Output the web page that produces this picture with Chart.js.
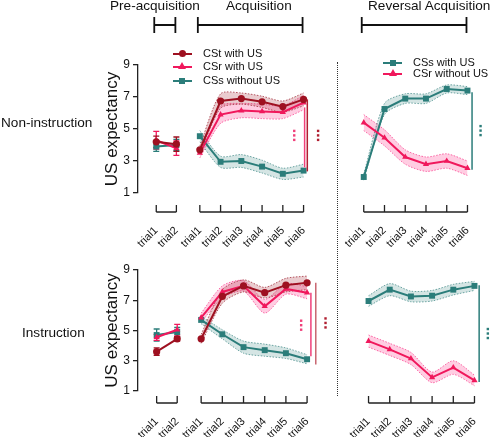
<!DOCTYPE html>
<html>
<head>
<meta charset="utf-8">
<script src="https://cdn.jsdelivr.net/npm/chart.js@4.4.1/dist/chart.umd.min.js"></script>
<style>
body{margin:0;width:500px;height:437px;position:relative;background:#fff;overflow:hidden;
  font-family:"Liberation Sans",Arial,sans-serif;color:#111}
canvas{position:absolute;left:0}
.t{position:absolute;white-space:nowrap;z-index:2}
.ln{position:absolute;height:2px;width:19px;z-index:2}
.mk{position:absolute;z-index:3}
</style>
</head>
<body>
<canvas id="topChart" width="500" height="262" style="top:0"></canvas>
<canvas id="bottomChart" width="500" height="197" style="top:240px"></canvas>

<!-- phase titles -->
<div class="t" style="left:110px;top:-2px;font-size:13.6px">Pre-acquisition</div>
<div class="t" style="left:226px;top:-2px;font-size:13.6px">Acquisition</div>
<div class="t" style="left:368px;top:-2px;font-size:13.6px">Reversal Acquisition</div>

<!-- row labels -->
<div class="t" style="left:1px;top:115px;font-size:13.6px">Non-instruction</div>
<div class="t" style="left:22px;top:325px;font-size:13.6px">Instruction</div>

<!-- separator -->
<div style="position:absolute;left:337px;top:62px;height:334px;border-left:1.5px dotted #333"></div>

<!-- legend, acquisition -->
<div class="ln" style="left:173px;top:53px;background:#9e1020"></div>
<div class="mk" style="left:179px;top:50px;width:7px;height:7px;border-radius:50%;background:#9e1020"></div>
<div class="t" style="left:203px;top:47px;font-size:11px">CSt with US</div>
<div class="ln" style="left:173px;top:66px;background:#f0185c"></div>
<div class="mk" style="left:178px;top:62px;width:0;height:0;border-left:4px solid transparent;border-right:4px solid transparent;border-bottom:7px solid #f0185c"></div>
<div class="t" style="left:203px;top:60px;font-size:11px">CSr with US</div>
<div class="ln" style="left:173px;top:80px;background:#2b7d7a"></div>
<div class="mk" style="left:179px;top:78px;width:6px;height:6px;background:#2b7d7a"></div>
<div class="t" style="left:203px;top:74px;font-size:11px">CSs without US</div>

<!-- legend, reversal -->
<div class="ln" style="left:383px;top:62px;background:#2b7d7a"></div>
<div class="mk" style="left:390px;top:60px;width:6px;height:6px;background:#2b7d7a"></div>
<div class="t" style="left:413px;top:56px;font-size:11px">CSs with US</div>
<div class="ln" style="left:383px;top:73px;background:#f0185c"></div>
<div class="mk" style="left:389px;top:69px;width:0;height:0;border-left:4px solid transparent;border-right:4px solid transparent;border-bottom:7px solid #f0185c"></div>
<div class="t" style="left:413px;top:67px;font-size:11px">CSr without US</div>

<script>
// labels
const preTrials = ['trial1', 'trial2']
const sixTrials = ['trial1', 'trial2', 'trial3', 'trial4', 'trial5', 'trial6']
const yTicks = [1, 3, 5, 7, 9]

// non-instruction (top row)
const topPreCSt = [4.2, 4.05]
const topPreCStErr = [0.35, 0.45]
const topPreCSr = [4.3, 3.8]
const topPreCSrErr = [0.55, 0.45]
const topPreCSs = [3.9, 4.0]
const topPreCSsErr = [0.3, 0.35]
const topAcqCSt = [3.7, 6.75, 6.9, 6.7, 6.4, 6.85]
const topAcqCStErr = [0.25, 0.45, 0.35, 0.35, 0.35, 0.4]
const topAcqCSr = [3.5, 5.9, 6.15, 6.1, 6.05, 6.65]
const topAcqCSrErr = [0.3, 0.55, 0.45, 0.45, 0.4, 0.45]
const topAcqCSs = [4.55, 2.95, 3.0, 2.65, 2.2, 2.4]
const topAcqCSsErr = [0.35, 0.35, 0.4, 0.4, 0.35, 0.4]
const topRevCSs = [2.0, 6.25, 6.9, 6.9, 7.5, 7.4]
const topRevCSsErr = [0.2, 0.35, 0.3, 0.3, 0.25, 0.25]
const topRevCSr = [5.4, 4.45, 3.25, 2.8, 3.0, 2.55]
const topRevCSrErr = [0.5, 0.5, 0.45, 0.45, 0.45, 0.45]

// instruction (bottom row)
const botPreCSt = [3.6, 4.45]
const botPreCStErr = [0.25, 0.15]
const botPreCSr = [4.55, 5.05]
const botPreCSrErr = [0.2, 0.35]
const botPreCSs = [4.7, 4.9]
const botPreCSsErr = [0.4, 0.3]
const botAcqCSt = [4.45, 7.25, 7.95, 7.5, 8.0, 8.15]
const botAcqCStErr = [0.3, 0.45, 0.4, 0.35, 0.45, 0.45]
const botAcqCSr = [5.85, 7.55, 7.95, 6.6, 7.75, 7.5]
const botAcqCSrErr = [0.3, 0.4, 0.35, 0.45, 0.35, 0.4]
const botAcqCSs = [5.7, 4.75, 3.9, 3.7, 3.5, 3.1]
const botAcqCSsErr = [0.25, 0.3, 0.4, 0.4, 0.35, 0.3]
const botRevCSs = [6.95, 7.7, 7.25, 7.3, 7.7, 7.95]
const botRevCSsErr = [0.35, 0.4, 0.35, 0.35, 0.35, 0.3]
const botRevCSr = [4.3, 3.75, 3.15, 1.9, 2.55, 1.7]
const botRevCSrErr = [0.4, 0.4, 0.4, 0.35, 0.45, 0.35]

// colours
const red = '#9e1020'
const pink = '#f0185c'
const teal = '#2b7d7a'

// x layout: acquisition trials sit at 0..5, the others are shifted
const preX = preTrials.map((t, i) => -2.1 + i * 0.97)
const acqX = sixTrials.map((t, i) => i)
const revX = sixTrials.map((t, i) => 7.9 + i)
const allX = [...preX, ...acqX, ...revX]
const allLabels = [...preTrials, ...sixTrials, ...sixTrials]

const pts = (xs, ys, off = 0) => ys.map((v, i) => ({x: xs[i], y: v + off}))

const line = (xs, ys, color, style, order) => ({
    data: pts(xs, ys),
    borderColor: color,
    backgroundColor: color,
    borderWidth: 2,
    pointStyle: style,
    pointRadius: style === 'rect' ? 4.2 : 3.6,
    pointBorderWidth: 0,
    tension: 0,
    fill: false,
    clip: false,
    order: order
})

// band = upper edge filled down to lower edge
const band = (xs, ys, err, color, fillColor) => [
    {data: pts(xs, ys, 0).map((p, i) => ({x: p.x, y: p.y + err[i]})),
     borderColor: color, borderWidth: 1, borderDash: [1.5, 1.5], pointRadius: 0,
     backgroundColor: fillColor, fill: '+1', tension: 0.25, clip: false, order: 20},
    {data: pts(xs, ys, 0).map((p, i) => ({x: p.x, y: p.y - err[i]})),
     borderColor: color, borderWidth: 1, borderDash: [1.5, 1.5], pointRadius: 0,
     fill: false, tension: 0.25, clip: false, order: 20}
]

const redBand = ['rgba(160,40,55,0.75)', 'rgba(170,50,65,0.25)']
const pinkBand = ['rgba(250,60,140,0.75)', 'rgba(255,90,160,0.3)']
const tealBand = ['rgba(43,125,122,0.65)', 'rgba(43,125,122,0.2)']

const overlay = {
    id: 'overlay',
    beforeDatasetsDraw(chart, args, o) {
        const {ctx} = chart
        const x = chart.scales.x, y = chart.scales.y
        ctx.save()
        ctx.lineWidth = 1.3
        o.errorBars.forEach(s => {
            ctx.strokeStyle = s.color
            s.values.forEach((v, i) => {
                const px = x.getPixelForValue(preX[i])
                const y1 = y.getPixelForValue(v + s.err[i])
                const y2 = y.getPixelForValue(v - s.err[i])
                ctx.beginPath()
                ctx.moveTo(px, y1); ctx.lineTo(px, y2)
                ctx.moveTo(px - 3, y1); ctx.lineTo(px + 3, y1)
                ctx.moveTo(px - 3, y2); ctx.lineTo(px + 3, y2)
                ctx.stroke()
            })
        })
        ctx.restore()
    },
    afterDraw(chart, args, o) {
        const {ctx, chartArea} = chart
        const x = chart.scales.x, y = chart.scales.y
        ctx.save()
        // detached x axis segments with inward ticks
        const axisY = chartArea.bottom + o.axisGap
        ctx.strokeStyle = '#222'
        ctx.lineWidth = 1.3
        ;[preX, acqX, revX].forEach(seg => {
            ctx.beginPath()
            ctx.moveTo(x.getPixelForValue(seg[0]), axisY)
            ctx.lineTo(x.getPixelForValue(seg[seg.length - 1]), axisY)
            seg.forEach(v => {
                const px = x.getPixelForValue(v)
                ctx.moveTo(px, axisY)
                ctx.lineTo(px, axisY - 7)
            })
            ctx.stroke()
        })
        // phase brackets
        if (o.brackets) {
            ctx.lineWidth = 1.8
            ctx.strokeStyle = '#111'
            ;[preX, acqX, revX].forEach(seg => {
                const a = x.getPixelForValue(seg[0]) - 2
                const b = x.getPixelForValue(seg[seg.length - 1]) - 1
                ctx.beginPath()
                ctx.moveTo(a, 25); ctx.lineTo(b, 25)
                ctx.moveTo(a, 17); ctx.lineTo(a, 33)
                ctx.moveTo(b, 17); ctx.lineTo(b, 33)
                ctx.stroke()
            })
        }
        // significance lines
        ctx.lineWidth = 1.5
        o.sigLines.forEach(s => {
            const px = x.getPixelForValue(s.x)
            ctx.strokeStyle = s.color
            ctx.beginPath()
            ctx.moveTo(px, y.getPixelForValue(s.from))
            ctx.lineTo(px, y.getPixelForValue(s.to))
            ctx.stroke()
        })
        // significance marks (three stacked dots)
        o.sigDots.forEach(s => {
            const px = x.getPixelForValue(s.x)
            const py = y.getPixelForValue(s.y)
            ctx.fillStyle = s.color
            for (let k = -1; k <= 1; k++) {
                ctx.fillRect(px - 1.2, py + k * 4.5 - 1.2, 2.4, 2.4)
            }
        })
        ctx.restore()
    }
}

const buildRow = (id, d, opt) => {
    new Chart(id, {
        type: 'line',
        data: {
            datasets: [
                line(preX, d.preCSt, red, 'circle', 0),
                line(preX, d.preCSr, pink, 'triangle', 1),
                line(preX, d.preCSs, teal, 'rect', 2),
                line(acqX, d.acqCSt, red, 'circle', 0),
                line(acqX, d.acqCSr, pink, 'triangle', 1),
                line(acqX, d.acqCSs, teal, 'rect', 2),
                line(revX, d.revCSs, teal, 'rect', 2),
                line(revX, d.revCSr, pink, 'triangle', 1),
                ...band(acqX, d.acqCSt, d.acqCStErr, ...redBand),
                ...band(acqX, d.acqCSr, d.acqCSrErr, ...pinkBand),
                ...band(acqX, d.acqCSs, d.acqCSsErr, ...tealBand),
                ...band(revX, d.revCSs, d.revCSsErr, ...tealBand),
                ...band(revX, d.revCSr, d.revCSrErr, ...pinkBand)
            ]
        },
        options: {
            responsive: false,
            animation: false,
            devicePixelRatio: 1,
            layout: {padding: {left: 98, right: 0, top: opt.top, bottom: 0}},
            scales: {
                x: {
                    type: 'linear',
                    min: -2.98,
                    max: 13.62,
                    afterBuildTicks: s => { s.ticks = allX.map(v => ({value: v})) },
                    afterFit: s => { s.height = opt.xHeight },
                    grid: {display: false},
                    border: {display: false},
                    ticks: {
                        autoSkip: false,
                        minRotation: 45,
                        maxRotation: 45,
                        padding: opt.labelPad,
                        color: '#111',
                        font: {size: 11, family: 'Liberation Sans, Arial, sans-serif'},
                        callback: (v, i) => allLabels[i]
                    }
                },
                y: {
                    min: 1,
                    max: 9,
                    afterBuildTicks: s => { s.ticks = yTicks.map(v => ({value: v})) },
                    afterFit: s => { s.width = 40 },
                    border: {display: true, color: '#222', width: 1.3},
                    grid: {display: true, drawOnChartArea: false, drawTicks: true, tickLength: 5, color: '#222', lineWidth: 1.3},
                    ticks: {color: '#111', padding: 3, font: {size: 12, family: 'Liberation Sans, Arial, sans-serif'}},
                    title: {display: true, text: 'US expectancy', color: '#111', padding: {top: 4, bottom: 0},
                        font: {size: 17, family: 'Liberation Sans, Arial, sans-serif'}}
                }
            },
            plugins: {
                legend: {display: false},
                tooltip: {enabled: false},
                overlay: {
                    axisGap: opt.axisGap,
                    brackets: opt.brackets,
                    errorBars: [
                        {values: d.preCSs, err: d.preCSsErr, color: teal},
                        {values: d.preCSr, err: d.preCSrErr, color: pink},
                        {values: d.preCSt, err: d.preCStErr, color: red}
                    ],
                    sigLines: opt.sigLines,
                    sigDots: opt.sigDots
                }
            }
        },
        plugins: [overlay]
    })
}

buildRow('topChart', {
    preCSt: topPreCSt, preCStErr: topPreCStErr, preCSr: topPreCSr, preCSrErr: topPreCSrErr,
    preCSs: topPreCSs, preCSsErr: topPreCSsErr,
    acqCSt: topAcqCSt, acqCStErr: topAcqCStErr, acqCSr: topAcqCSr, acqCSrErr: topAcqCSrErr,
    acqCSs: topAcqCSs, acqCSsErr: topAcqCSsErr,
    revCSs: topRevCSs, revCSsErr: topRevCSsErr, revCSr: topRevCSr, revCSrErr: topRevCSrErr
}, {
    top: 65, xHeight: 69, labelPad: 23, axisGap: 19, brackets: true,
    sigLines: [
        {x: 5.18, from: 6.85, to: 2.35, color: '#b01e30'},
        {x: 5.05, from: 6.35, to: 2.6, color: '#f0407a'},
        {x: 13.12, from: 7.3, to: 2.45, color: teal}
    ],
    sigDots: [
        {x: 4.55, y: 4.6, color: '#f0407a'},
        {x: 5.7, y: 4.6, color: '#b01e30'},
        {x: 13.53, y: 4.9, color: teal}
    ]
})

buildRow('bottomChart', {
    preCSt: botPreCSt, preCStErr: botPreCStErr, preCSr: botPreCSr, preCSrErr: botPreCSrErr,
    preCSs: botPreCSs, preCSsErr: botPreCSsErr,
    acqCSt: botAcqCSt, acqCStErr: botAcqCStErr, acqCSr: botAcqCSr, acqCSrErr: botAcqCSrErr,
    acqCSs: botAcqCSs, acqCSsErr: botAcqCSsErr,
    revCSs: botRevCSs, revCSsErr: botRevCSsErr, revCSr: botRevCSr, revCSrErr: botRevCSrErr
}, {
    top: 30, xHeight: 46, labelPad: 16, axisGap: 12, brackets: false,
    sigLines: [
        {x: 5.41, from: 8.15, to: 2.75, color: '#c86670'},
        {x: 5.18, from: 7.5, to: 3.3, color: '#f0407a'},
        {x: 13.12, from: 8.0, to: 1.6, color: teal}
    ],
    sigDots: [
        {x: 4.72, y: 5.35, color: '#f0407a'},
        {x: 5.87, y: 5.5, color: '#b01e30'},
        {x: 13.53, y: 4.8, color: teal}
    ]
})
</script>
</body>
</html>
